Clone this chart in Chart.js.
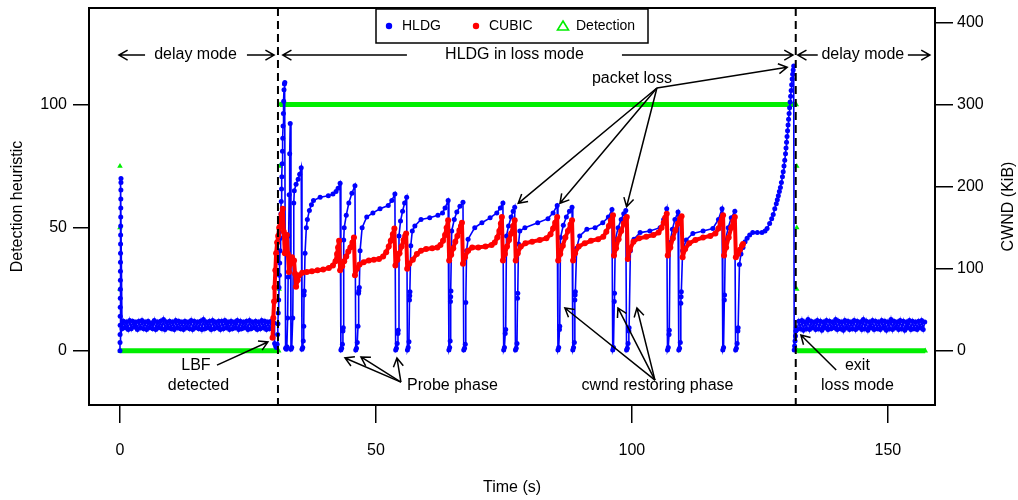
<!DOCTYPE html>
<html>
<head>
<meta charset="utf-8">
<title>HLDG loss mode vs CUBIC</title>
<script src="https://cdn.jsdelivr.net/npm/chart.js@4.4.1/dist/chart.umd.min.js"></script>
<style>
  html, body { margin: 0; padding: 0; background: #fff; }
  #wrap { width: 1018px; height: 500px; }
</style>
</head>
<body>
<div id="wrap"><canvas id="chart" width="1018" height="500"></canvas></div>
<script>
// ---------------------------------------------------------------------------
// Data (time in seconds, CWND in KiB, detection heuristic in %)
// ---------------------------------------------------------------------------

// Axis ticks
const timeTicks = [0, 50, 100, 150];
const detectionTicks = [0, 50, 100];
const cwndTicks = [0, 100, 200, 300, 400];

// HLDG cwnd during the start-up burst at t = 0
const hldgStartup = [
  [0, 0], [0.01, 10], [0.02, 20], [0.03, 31], [0.04, 42], [0.05, 53], [0.06, 64],
  [0.07, 75], [0.08, 86], [0.09, 97], [0.1, 108], [0.11, 119], [0.12, 130],
  [0.13, 141], [0.14, 152], [0.15, 163], [0.16, 174], [0.17, 185], [0.18, 196],
  [0.19, 205], [0.2, 210]
];

// HLDG cwnd in the first delay-mode phase, sampled every 0.3 s from 0.4 s
const hldgDelay1Start = 0.4;
const hldgDelay1Step = 0.3;
const hldgDelay1 = [
  27,36,28,35,26,37,27,36,29,35,26,36,28,37,27,35,26,36,28,34,
  27,37,26,35,28,36,27,38,26,35,28,36,27,35,26,37,28,36,27,35,
  26,36,28,35,27,37,26,36,28,35,27,36,26,38,27,35,28,36,26,37,
  27,35,28,36,26,36,27,37,28,35,26,36,27,35,28,37,26,36,27,35,
  28,36,26,37,27,35,28,36,26,35,27,37,28,36,26,35,27,36,28,34
];

// HLDG cwnd while in loss mode: [time, KiB]
const hldgLossMode = [
  [30.2, 9], [30.4, 6], [30.55, 4], [30.7, 8], [30.8, 20], [30.86, 33], [30.92, 46],
  [31.0, 62], [31.07, 77], [31.14, 92], [31.2, 107], [31.26, 122], [31.32, 137],
  [31.38, 152], [31.44, 167], [31.5, 182], [31.56, 197], [31.62, 212], [31.68, 228],
  [31.74, 243], [31.8, 259], [31.86, 274], [31.92, 289], [31.98, 304], [32.04, 318],
  [32.12, 325], [32.2, 327],
  [32.35, 3], [32.5, 2], [32.6, 5], [32.75, 40], [32.85, 90], [32.95, 140], [33.05, 190],
  [33.15, 240], [33.25, 277],
  [33.4, 2], [33.55, 4], [33.75, 40], [33.85, 110], [33.95, 180], [34.05, 195],
  [34.4, 203], [34.8, 209], [35.1, 215], [35.4, 223],
  [35.55, 2], [35.7, 4], [35.8, 12], [35.9, 30], [35.95, 68], [36.0, 73], [36.15, 119],
  [36.4, 150], [36.6, 160], [37.0, 171], [37.4, 178], [37.8, 183], [39.1, 187],
  [40.7, 189], [41.6, 191], [42.2, 194], [42.6, 198], [43.0, 204],
  [43.15, 1], [43.3, 3], [43.45, 8], [43.55, 24], [43.62, 28], [43.7, 135], [43.8, 150],
  [44.2, 165], [44.7, 180], [45.3, 192], [45.9, 201],
  [46.05, 1], [46.2, 3], [46.35, 10], [46.5, 30], [46.6, 70], [46.65, 73], [46.75, 77],
  [46.9, 122], [47.3, 150], [48.2, 163], [49.4, 168], [50.8, 173], [52.4, 177],
  [53.1, 183], [53.7, 191],
  [53.85, 1], [54.0, 3], [54.15, 9], [54.3, 21], [54.35, 25], [54.5, 140], [54.8, 158],
  [55.2, 170], [55.6, 180], [56.0, 187],
  [56.15, 1], [56.3, 4], [56.45, 11], [56.55, 62], [56.6, 67], [56.65, 72], [56.8, 128],
  [57.1, 146], [57.6, 152], [58.8, 160], [60.5, 162], [62.1, 165], [63.0, 168],
  [63.5, 174], [64.1, 183],
  [64.25, 1], [64.4, 4], [64.5, 12], [64.55, 60], [64.6, 66], [64.65, 73], [64.8, 146],
  [65.3, 160], [65.8, 169], [66.4, 176], [67.0, 181],
  [67.15, 1], [67.3, 3], [67.45, 8], [67.55, 59], [67.7, 122], [68.0, 136], [69.3, 150],
  [70.7, 156], [72.3, 162], [73.6, 168], [74.3, 174], [74.8, 180],
  [74.95, 1], [75.1, 4], [75.25, 21], [75.35, 26], [75.5, 140], [75.9, 152], [76.4, 163],
  [76.8, 170], [77.1, 175],
  [77.25, 1], [77.4, 3], [77.55, 9], [77.65, 64], [77.7, 70], [77.85, 130], [78.1, 146],
  [79.1, 150], [81.6, 156], [83.6, 161], [84.6, 168], [85.4, 177],
  [85.55, 1], [85.7, 4], [85.85, 26], [85.9, 30], [86.05, 138], [86.6, 153], [87.2, 163],
  [87.8, 170], [88.3, 175],
  [88.45, 1], [88.6, 4], [88.75, 10], [88.85, 62], [88.9, 68], [88.95, 72], [89.2, 125],
  [89.8, 140], [91.2, 148], [92.8, 150], [94.3, 156], [95.4, 163], [96.1, 172],
  [96.25, 1], [96.4, 4], [96.55, 60], [96.6, 70], [96.75, 135], [97.3, 150], [97.9, 160],
  [98.4, 167], [98.8, 171],
  [98.95, 1], [99.1, 3], [99.25, 9], [99.4, 24], [99.45, 28], [99.7, 122], [100.4, 136],
  [101.6, 144], [103.5, 146], [105.5, 150], [106.2, 160], [106.8, 173],
  [106.95, 1], [107.1, 4], [107.25, 20], [107.3, 25], [107.45, 132], [107.9, 148],
  [108.4, 160], [109.0, 169],
  [109.15, 1], [109.3, 3], [109.45, 10], [109.55, 58], [109.6, 66], [109.65, 72],
  [109.9, 122], [110.6, 135], [111.9, 143], [113.9, 146], [115.8, 149], [116.9, 160],
  [117.6, 173],
  [117.75, 1], [117.9, 4], [118.05, 62], [118.1, 68], [118.25, 134], [118.8, 150],
  [119.4, 162], [120.1, 170],
  [120.25, 1], [120.4, 3], [120.55, 9], [120.7, 24], [120.75, 28], [121.0, 105],
  [121.3, 118], [121.7, 126], [122.1, 133], [122.5, 137], [123.0, 141], [123.6, 144],
  [124.5, 144], [125.4, 144], [126.0, 146], [126.4, 149], [126.9, 155], [127.3, 161],
  [127.6, 166], [127.9, 173], [128.2, 179], [128.4, 184], [128.6, 189], [128.8, 194],
  [129.0, 199], [129.2, 205], [129.4, 212], [129.55, 218], [129.7, 225], [129.85, 232],
  [130.0, 240], [130.1, 247], [130.2, 254], [130.3, 261], [130.4, 268], [130.5, 275],
  [130.6, 282], [130.7, 289], [130.8, 296], [130.9, 303], [131.0, 310], [131.1, 317],
  [131.2, 324], [131.3, 331], [131.4, 337], [131.5, 342], [131.6, 347],
  [131.7, 1], [131.78, 6], [131.86, 12], [131.94, 18], [132.02, 24], [132.1, 28]
];

// HLDG cwnd in the second delay-mode phase, sampled every 0.3 s from 132.3 s
const hldgDelay2Start = 132.3;
const hldgDelay2Step = 0.3;
const hldgDelay2 = [
  26,36,27,37,25,35,27,38,26,36,28,35,26,37,27,36,25,35,28,37,
  26,36,27,35,28,38,26,36,27,35,25,37,28,36,26,35,27,37,26,36,
  28,35,26,38,27,36,25,35,28,37,26,36,27,35,26,37,28,36,25,35,
  27,38,26,36,28,35,26,37,27,36,25,35,28,37,26,36,27,35,26,36,
  28,37,26,35
];

// CUBIC cwnd: [time, KiB]
const cubicCwnd = [
  [29.8, 16], [29.95, 40], [30.1, 60], [30.2, 77], [30.35, 98], [30.5, 119], [30.7, 132],
  [30.9, 140], [31.1, 150], [31.3, 159], [31.55, 166], [31.8, 173],
  [32.0, 145], [32.2, 119], [32.4, 130], [32.6, 141], [32.8, 118], [33.0, 96], [33.3, 106],
  [33.6, 114], [34.0, 110], [34.2, 94], [34.4, 78], [34.7, 86], [35.0, 92], [35.6, 95],
  [36.5, 96], [37.5, 97], [38.6, 98], [39.7, 99], [40.8, 101], [41.6, 104], [42.1, 109],
  [42.4, 118], [42.6, 126], [42.8, 134],
  [43.0, 98], [43.4, 103], [43.8, 109], [44.2, 115], [44.6, 121], [45.0, 126], [45.4, 132],
  [45.7, 138],
  [45.9, 92], [46.3, 100], [46.8, 105], [47.6, 108], [48.6, 110], [49.6, 111], [50.6, 112],
  [51.4, 115], [52.0, 120], [52.5, 127], [52.9, 134], [53.3, 142], [53.6, 149],
  [53.8, 104], [54.2, 111], [54.6, 119], [55.0, 127], [55.4, 135], [55.7, 140], [55.9, 143],
  [56.1, 100], [56.5, 106], [57.2, 111], [58.0, 118], [58.8, 122], [59.8, 124], [61.0, 125],
  [62.0, 126], [62.6, 129], [63.1, 134], [63.5, 141], [63.8, 150], [64.1, 159],
  [64.3, 110], [64.7, 117], [65.1, 125], [65.5, 133], [65.9, 140], [66.3, 147], [66.6, 152],
  [66.8, 156],
  [67.0, 106], [67.4, 114], [68.0, 122], [68.8, 126], [70.0, 126], [71.4, 127], [72.6, 129],
  [73.2, 132], [73.7, 138], [74.1, 146], [74.4, 155], [74.6, 163],
  [74.8, 110], [75.2, 118], [75.6, 127], [76.0, 135], [76.4, 143], [76.8, 152], [77.1, 159],
  [77.3, 110], [77.7, 119], [78.3, 127], [79.2, 131], [80.5, 133], [82.0, 135], [83.3, 137],
  [84.1, 142], [84.6, 149], [85.0, 156], [85.4, 163],
  [85.6, 110], [86.0, 118], [86.5, 128], [87.0, 138], [87.5, 146], [88.0, 154], [88.3, 159],
  [88.5, 110], [88.9, 119], [89.6, 127], [90.8, 131], [92.0, 134], [93.4, 136], [94.4, 139],
  [95.0, 145], [95.5, 152], [95.9, 159], [96.3, 165],
  [96.5, 116], [96.9, 125], [97.4, 136], [97.9, 146], [98.4, 155], [98.8, 161], [99.0, 163],
  [99.2, 112], [99.6, 123], [100.3, 133], [101.4, 137], [102.8, 139], [104.2, 141],
  [105.2, 144], [105.8, 150], [106.2, 156], [106.5, 162], [106.8, 167],
  [107.0, 116], [107.5, 126], [108.0, 137], [108.5, 147], [109.0, 155], [109.4, 161],
  [109.7, 164],
  [109.9, 114], [110.4, 124], [111.2, 131], [112.4, 135], [113.9, 138], [115.3, 140],
  [116.3, 143], [116.9, 149], [117.3, 156], [117.6, 161], [117.8, 165],
  [118.0, 116], [118.4, 126], [118.9, 138], [119.4, 150], [119.8, 158], [120.1, 163],
  [120.3, 114], [120.7, 118], [121.1, 123], [121.5, 128], [121.7, 130]
];

// Detection heuristic (%): [time, value]
const detectionHeuristic = [
  [0, 75], [0, 50], [0, 25], [0.05, 0], [31.0, 0],
  [31.1, 25], [31.15, 50], [31.2, 75], [31.25, 100], [132.1, 100],
  [132.2, 75], [132.2, 50], [132.2, 25], [132.3, 0], [157.3, 0]
];

// Mode switches (s)
const modeSwitchTimes = [30.86, 132.0];

// ---------------------------------------------------------------------------
// Annotations, placed in data units (time, detection-heuristic axis)
// ---------------------------------------------------------------------------
const annotationArrows = [
  // mode spans
  [4.9, 120.1, -0.2, 120.1], [24.8, 120.1, 30.1, 120.1],
  [56.05, 120.1, 31.8, 120.1], [98.05, 120.1, 131.45, 120.1],
  [136.3, 120.1, 132.4, 120.1], [153.9, 120.1, 158.2, 120.1],
  // packet loss
  [104.88, 106.7, 77.79, 59.9], [104.88, 106.7, 85.94, 59.9],
  [104.88, 106.7, 98.96, 58.5], [104.88, 106.7, 130.33, 115.1],
  // LBF detected
  [18.95, -5.8, 28.9, 3.6],
  // probe phase
  [54.88, -12.7, 43.95, -2.9], [54.88, -12.7, 47.07, -2.5], [54.88, -12.7, 54.1, -2.9],
  // cwnd restoring phase
  [104.5, -11.9, 86.9, 17.4], [104.5, -11.9, 97.27, 17.4], [104.5, -11.9, 100.98, 17.4],
  // exit loss mode
  [139.9, -7.8, 133.0, 6.4]
];

const annotationTexts = [
  { text: 'delay mode', t: 14.75, v: 120.1 },
  { text: 'HLDG in loss mode', t: 77.05, v: 120.1 },
  { text: 'delay mode', t: 145.1, v: 120.1 },
  { text: 'packet loss', t: 100.0, v: 110.4 },
  { text: 'LBF', t: 14.84, v: -5.8 },
  { text: 'detected', t: 15.33, v: -14.3 },
  { text: 'Probe phase', t: 64.94, v: -14.3 },
  { text: 'cwnd restoring phase', t: 104.98, v: -14.3 },
  { text: 'exit', t: 144.04, v: -6.2 },
  { text: 'loss mode', t: 144.04, v: -14.3 }
];

// ---------------------------------------------------------------------------
// Build series
// ---------------------------------------------------------------------------
const toXY = pairs => pairs.map(([t, v]) => ({ x: t, y: v }));
const sampled = (start, step, values) => values.map((v, i) => ({ x: +(start + i * step).toFixed(2), y: v }));

const hldgPoints = [
  ...toXY(hldgStartup),
  ...sampled(hldgDelay1Start, hldgDelay1Step, hldgDelay1),
  ...toXY(hldgLossMode),
  ...sampled(hldgDelay2Start, hldgDelay2Step, hldgDelay2)
];
const cubicPoints = toXY(cubicCwnd);
const detectionPoints = toXY(detectionHeuristic);

// ---------------------------------------------------------------------------
// Styling
// ---------------------------------------------------------------------------
const BLUE = '#0000ff';
const RED = '#ff0000';
const GREEN = '#00ee00';
const FONT = '"Liberation Sans", Arial, Helvetica, sans-serif';

Chart.defaults.font.family = FONT;
Chart.defaults.font.size = 16;
Chart.defaults.color = '#000';

const fixedTicks = values => scale => { scale.ticks = values.map(v => ({ value: v })); };
const fixWidth = w => scale => { scale.width = w; scale.paddingTop = 0; scale.paddingBottom = 0; };
const fixHeight = h => scale => { scale.height = h; scale.paddingLeft = 0; scale.paddingRight = 0; };

function drawArrow(ctx, x0, y0, x1, y1) {
  const ang = Math.atan2(y1 - y0, x1 - x0);
  const head = 10, spread = Math.PI / 6;
  ctx.beginPath();
  ctx.moveTo(x0, y0);
  ctx.lineTo(x1, y1);
  ctx.moveTo(x1 - head * Math.cos(ang - spread), y1 - head * Math.sin(ang - spread));
  ctx.lineTo(x1, y1);
  ctx.lineTo(x1 - head * Math.cos(ang + spread), y1 - head * Math.sin(ang + spread));
  ctx.stroke();
}

const legendItems = [
  { label: 'HLDG', color: BLUE, symbol: 'dot' },
  { label: 'CUBIC', color: RED, symbol: 'dot' },
  { label: 'Detection', color: GREEN, symbol: 'triangle' }
];

// Frame, mode boundaries, arrows, notes, legend and right axis title
const figureNotes = {
  id: 'figureNotes',
  afterDatasetsDraw(chart) {
    const { ctx, chartArea: a, scales } = chart;
    const px = t => scales.x.getPixelForValue(t);
    const py = v => scales.yDet.getPixelForValue(v);
    ctx.save();

    // dashed mode boundaries
    ctx.strokeStyle = '#000';
    ctx.lineWidth = 2;
    ctx.setLineDash([8, 5]);
    modeSwitchTimes.forEach(t => {
      ctx.beginPath();
      ctx.moveTo(px(t), a.top);
      ctx.lineTo(px(t), a.bottom);
      ctx.stroke();
    });
    ctx.setLineDash([]);

    // arrows
    ctx.lineWidth = 1.5;
    annotationArrows.forEach(([t0, v0, t1, v1]) => drawArrow(ctx, px(t0), py(v0), px(t1), py(v1)));

    // notes
    ctx.fillStyle = '#000';
    ctx.font = '16px ' + FONT;
    ctx.textAlign = 'center';
    ctx.textBaseline = 'middle';
    annotationTexts.forEach(n => ctx.fillText(n.text, px(n.t), py(n.v)));

    // plot frame
    ctx.lineWidth = 2;
    ctx.strokeRect(a.left, a.top, a.right - a.left, a.bottom - a.top);

    // legend
    const cx = (a.left + a.right) / 2;
    const lgW = 272, lgH = 34, itemStep = 87;
    const lgLeft = cx - lgW / 2, lgTop = a.top + 1;
    const midY = lgTop + lgH / 2;
    ctx.fillStyle = '#fff';
    ctx.fillRect(lgLeft, lgTop, lgW, lgH);
    ctx.lineWidth = 1.5;
    ctx.strokeStyle = '#000';
    ctx.strokeRect(lgLeft, lgTop, lgW, lgH);
    ctx.font = '14px ' + FONT;
    ctx.textAlign = 'left';
    legendItems.forEach((it, i) => {
      const sx = lgLeft + 13 + i * itemStep;
      if (it.symbol === 'dot') {
        ctx.fillStyle = it.color;
        ctx.beginPath();
        ctx.arc(sx, midY, 3.2, 0, Math.PI * 2);
        ctx.fill();
      } else {
        ctx.strokeStyle = it.color;
        ctx.lineWidth = 1.6;
        ctx.beginPath();
        ctx.moveTo(sx, midY - 5);
        ctx.lineTo(sx + 5.5, midY + 4);
        ctx.lineTo(sx - 5.5, midY + 4);
        ctx.closePath();
        ctx.stroke();
      }
      ctx.fillStyle = '#000';
      ctx.fillText(it.label, sx + 13, midY);
    });

    // right axis title (reads bottom to top)
    ctx.save();
    ctx.translate(1009, (a.top + a.bottom) / 2);
    ctx.rotate(-Math.PI / 2);
    ctx.textAlign = 'center';
    ctx.textBaseline = 'middle';
    ctx.font = '16px ' + FONT;
    ctx.fillStyle = '#000';
    ctx.fillText('CWND (KiB)', 0, 0);
    ctx.restore();

    ctx.restore();
  }
};

new Chart(document.getElementById('chart'), {
  type: 'scatter',
  data: {
    datasets: [
      {
        label: 'CUBIC',
        data: cubicPoints,
        yAxisID: 'yCwnd',
        showLine: true,
        borderColor: RED,
        backgroundColor: RED,
        borderWidth: 4,
        borderJoinStyle: 'round',
        pointRadius: 3,
        pointBorderWidth: 0,
        pointBackgroundColor: RED,
        order: 0
      },
      {
        label: 'HLDG',
        data: hldgPoints,
        yAxisID: 'yCwnd',
        showLine: true,
        borderColor: BLUE,
        backgroundColor: BLUE,
        borderWidth: 1.6,
        pointRadius: 2.5,
        pointBorderWidth: 0,
        pointBackgroundColor: BLUE,
        order: 1
      },
      {
        label: 'Detection',
        data: detectionPoints,
        yAxisID: 'yDet',
        showLine: true,
        borderColor: GREEN,
        backgroundColor: GREEN,
        borderWidth: 5,
        borderCapStyle: 'butt',
        pointStyle: 'triangle',
        pointRadius: 3.2,
        pointBorderWidth: 0,
        pointBackgroundColor: GREEN,
        segment: {
          borderColor: ctx => (ctx.p0.parsed.y === ctx.p1.parsed.y ? GREEN : 'rgba(0,0,0,0)')
        },
        order: 2
      }
    ]
  },
  options: {
    responsive: false,
    animation: false,
    devicePixelRatio: 1,
    layout: { padding: { top: 8, left: 0, right: 0, bottom: 0 } },
    plugins: { legend: { display: false }, tooltip: { enabled: false } },
    scales: {
      x: {
        type: 'linear',
        min: -6.05,
        max: 159.2,
        afterBuildTicks: fixedTicks(timeTicks),
        afterFit: fixHeight(95),
        grid: { drawOnChartArea: false, drawTicks: true, tickLength: 18, color: '#000', lineWidth: 1.5 },
        border: { display: false },
        ticks: { padding: 18, maxRotation: 0, autoSkip: false },
        title: { display: true, text: 'Time (s)', padding: { top: 0, bottom: 3 } }
      },
      yDet: {
        type: 'linear',
        position: 'left',
        min: -22,
        max: 139.2,
        afterBuildTicks: fixedTicks(detectionTicks),
        afterFit: fixWidth(89),
        grid: { drawOnChartArea: false, drawTicks: true, tickLength: 16, color: '#000', lineWidth: 1.5 },
        border: { display: false },
        ticks: { padding: 6 },
        title: { display: true, text: 'Detection heuristic', padding: { top: 8, bottom: 0 } }
      },
      yCwnd: {
        type: 'linear',
        position: 'right',
        min: -66,
        max: 417.6,
        afterBuildTicks: fixedTicks(cwndTicks),
        afterFit: fixWidth(83),
        grid: { drawOnChartArea: false, drawTicks: true, tickLength: 18, color: '#000', lineWidth: 1.5 },
        border: { display: false },
        ticks: { padding: 4 }
      }
    }
  },
  plugins: [figureNotes]
});
</script>
</body>
</html>
